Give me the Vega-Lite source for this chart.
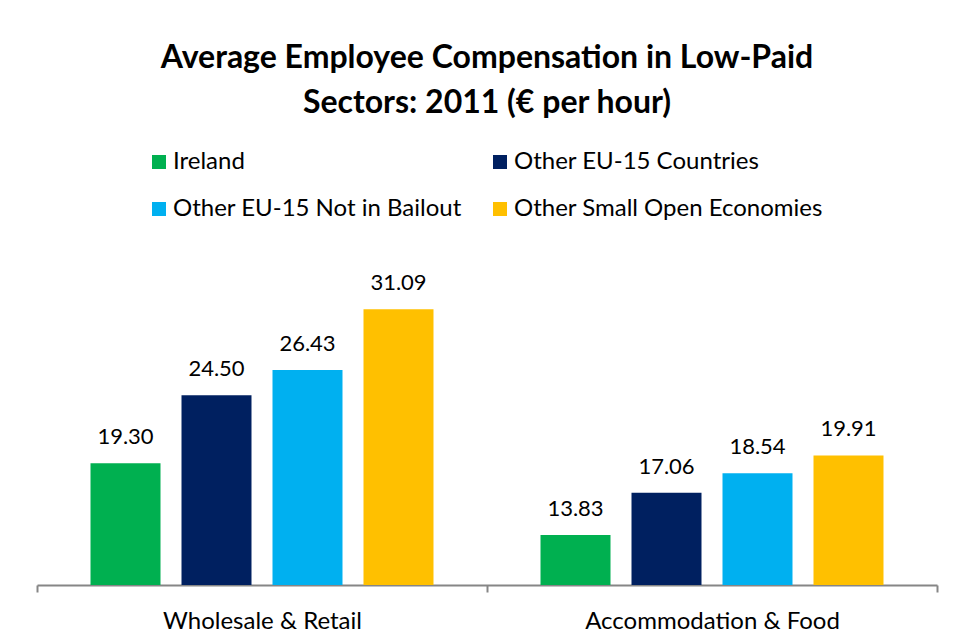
{
  "$schema": "https://vega.github.io/schema/vega-lite/v6.json",
  "width": 900,
  "height": 327,
  "autosize": "none",
  "padding": {"left": 37, "top": 258, "right": 18, "bottom": 59},
  "background": "white",
  "title": {
    "text": ["Average Employee Compensation in Low-Paid", "Sectors:  2011 (€ per hour)"],
    "font": "Lato",
    "fontSize": 32,
    "fontWeight": "bold",
    "color": "#000000",
    "lineHeight": 45,
    "anchor": "middle",
    "offset": 30
  },
  "data": {
    "values": [
      {"sector": "Wholesale & Retail", "group": "Ireland", "value": 19.30},
      {"sector": "Wholesale & Retail", "group": "Other EU-15 Countries", "value": 24.50},
      {"sector": "Wholesale & Retail", "group": "Other EU-15 Not in Bailout", "value": 26.43},
      {"sector": "Wholesale & Retail", "group": "Other Small Open Economies", "value": 31.09},
      {"sector": "Accommodation & Food", "group": "Ireland", "value": 13.83},
      {"sector": "Accommodation & Food", "group": "Other EU-15 Countries", "value": 17.06},
      {"sector": "Accommodation & Food", "group": "Other EU-15 Not in Bailout", "value": 18.54},
      {"sector": "Accommodation & Food", "group": "Other Small Open Economies", "value": 19.91}
    ]
  },
  "encoding": {
    "x": {
      "field": "sector",
      "type": "nominal",
      "sort": ["Wholesale & Retail", "Accommodation & Food"],
      "scale": {"paddingInner": 0, "paddingOuter": 0},
      "axis": {
        "title": null,
        "labelAngle": 0,
        "labelFont": "Lato",
        "labelFontSize": 24,
        "labelColor": "#000000",
        "labelPadding": 17,
        "labelLimit": 400,
        "tickBand": "extent",
        "tickSize": 7,
        "tickColor": "#868686",
        "tickWidth": 2,
        "domainColor": "#868686",
        "domainWidth": 2
      }
    },
    "xOffset": {
      "field": "group",
      "type": "nominal",
      "sort": ["Ireland", "Other EU-15 Countries", "Other EU-15 Not in Bailout", "Other Small Open Economies"],
      "scale": {"paddingInner": 0.2308, "paddingOuter": 0.588}
    },
    "y": {
      "field": "value",
      "type": "quantitative",
      "scale": {"domain": [10, 35], "zero": false, "nice": false},
      "axis": null
    }
  },
  "layer": [
    {
      "mark": {"type": "bar", "clip": true},
      "encoding": {
        "y2": {"datum": 10},
        "color": {
          "field": "group",
          "type": "nominal",
          "sort": ["Ireland", "Other EU-15 Countries", "Other EU-15 Not in Bailout", "Other Small Open Economies"],
          "scale": {
            "domain": ["Ireland", "Other EU-15 Countries", "Other EU-15 Not in Bailout", "Other Small Open Economies"],
            "range": ["#00B050", "#002060", "#00B0F0", "#FFC000"]
          },
          "legend": {
            "title": null,
            "orient": "none",
            "direction": "horizontal",
            "legendX": 110,
            "legendY": -108,
            "columns": 2,
            "columnPadding": 26,
            "rowPadding": 23,
            "symbolType": "square",
            "symbolSize": 196,
            "symbolStrokeWidth": 0,
            "symbolOpacity": 1,
            "labelFont": "Lato",
            "labelFontSize": 24,
            "labelColor": "#000000",
            "labelOffset": 2,
            "labelLimit": 400
          }
        }
      }
    },
    {
      "mark": {"type": "text", "baseline": "bottom", "dy": -14, "font": "Lato", "fontSize": 22, "color": "#000000"},
      "encoding": {
        "text": {"field": "value", "type": "quantitative", "format": ".2f"}
      }
    }
  ],
  "config": {
    "view": {"stroke": null}
  }
}
